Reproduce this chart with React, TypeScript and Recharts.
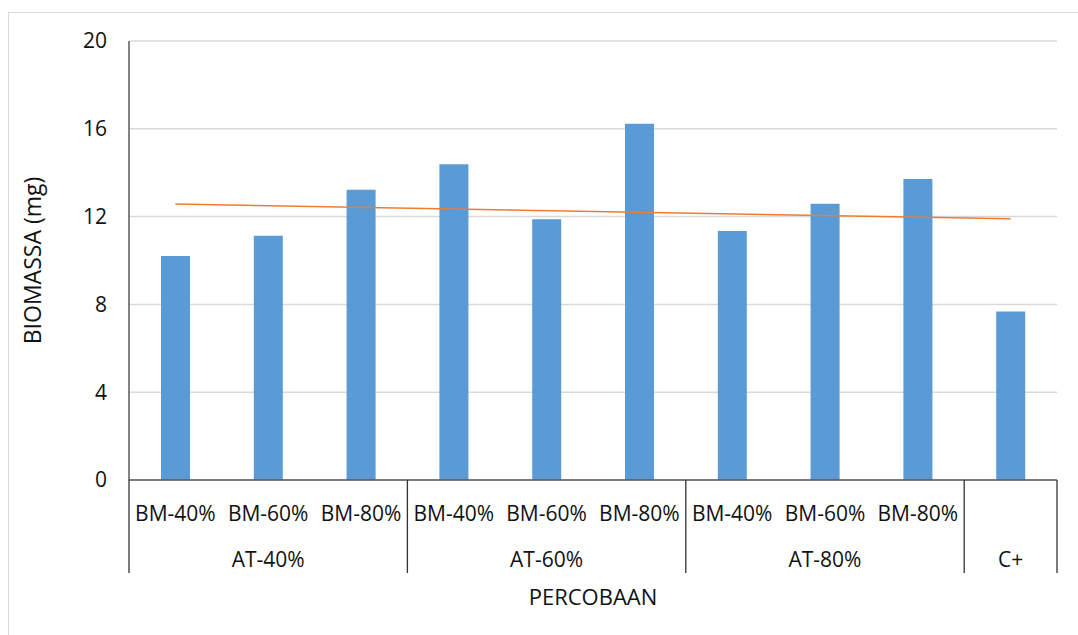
import React from 'react';
import {
  Bar,
  CartesianGrid,
  ComposedChart,
  Line,
  XAxis,
  YAxis,
} from 'recharts';

// perlakuan BM per kelompok AT, plus kontrol C+
const treatments = ['BM-40%', 'BM-60%', 'BM-80%', 'BM-40%', 'BM-60%', 'BM-80%', 'BM-40%', 'BM-60%', 'BM-80%', ''];
const groups = ['AT-40%', 'AT-60%', 'AT-80%', 'C+'];
const groupSpans = [3, 3, 3, 1];
const biomass = [10.2, 11.13, 13.22, 14.39, 11.88, 16.23, 11.34, 12.58, 13.71, 7.68];
// garis tren linear: nilai di kategori pertama dan terakhir
const trendEnds = [12.57, 11.9];
const yTicks = [0, 4, 8, 12, 16, 20];

const W = 1078;
const H = 635;
const LEFT = 129;
const RIGHT = 21;
const TOP = 41;
const AXIS_H = 155;
const BAND = (W - LEFT - RIGHT) / treatments.length;
const FONT = '"Open Sans", sans-serif';
const TEXT = '#111';
const TICK_SIZE = 21;

const groupStarts = groupSpans.map((_, i) => groupSpans.slice(0, i).reduce((a, b) => a + b, 0));

const data = treatments.map((t, i) => ({
  key: `${i}`,
  label: t,
  biomass: biomass[i],
  trend: i === 0 ? trendEnds[0] : i === treatments.length - 1 ? trendEnds[1] : null,
}));

function GroupedTick(props: any) {
  const { x, y, payload } = props;
  const i = payload?.index ?? props.index ?? 0;
  const left = x - BAND / 2;
  const g = groupStarts.indexOf(i);
  return (
    <g>
      <text x={x} y={y + 33} textAnchor="middle" dominantBaseline="central" fontSize={TICK_SIZE} fontFamily={FONT} fill={TEXT}>
        {treatments[i]}
      </text>
      {g >= 0 && (
        <>
          <line x1={left} y1={y} x2={left} y2={y + 93} stroke="#333" strokeWidth={1.3} />
          <text
            x={left + (groupSpans[g] * BAND) / 2}
            y={y + 79}
            textAnchor="middle"
            dominantBaseline="central"
            fontSize={TICK_SIZE}
            fontFamily={FONT}
            fill={TEXT}
          >
            {groups[g]}
          </text>
        </>
      )}
      {i === treatments.length - 1 && (
        <line x1={x + BAND / 2} y1={y} x2={x + BAND / 2} y2={y + 93} stroke="#333" strokeWidth={1.3} />
      )}
    </g>
  );
}

export default function App() {
  return (
    <div style={{ position: 'absolute', left: 0, top: 0, width: W, height: H, background: '#fff', overflow: 'hidden' }}>
      <div
        style={{
          position: 'absolute',
          left: 8,
          top: 12,
          width: W,
          height: H,
          borderLeft: '1.5px solid #d9d9d9',
          borderTop: '1.5px solid #d9d9d9',
        }}
      />
      <ComposedChart
        width={W}
        height={H}
        data={data}
        margin={{ top: TOP, right: RIGHT, left: 0, bottom: 0 }}
        style={{ position: 'absolute', left: 0, top: 0 }}
      >
        <CartesianGrid vertical={false} stroke="#d9d9d9" strokeWidth={1.5} />
        <XAxis
          dataKey="key"
          height={AXIS_H}
          interval={0}
          tickLine={false}
          tickSize={0}
          tickMargin={0}
          axisLine={{ stroke: '#595959', strokeWidth: 1.5 }}
          tick={<GroupedTick />}
          label={{ value: 'PERCOBAAN', position: 'insideBottom', offset: 30, fontSize: 22, fontFamily: FONT, fill: TEXT }}
        />
        <YAxis
          width={LEFT}
          domain={[0, 20]}
          ticks={yTicks}
          tickLine={false}
          tickSize={0}
          tickMargin={22}
          axisLine={{ stroke: '#595959', strokeWidth: 1.5 }}
          tick={{ fontSize: TICK_SIZE, fontFamily: FONT, fill: TEXT }}
          label={{
            value: 'BIOMASSA (mg)',
            angle: -90,
            position: 'insideLeft',
            offset: 33,
            style: { textAnchor: 'middle', fontSize: 23, fontFamily: FONT, fill: TEXT },
          }}
        />
        <Bar dataKey="biomass" fill="#5b9bd5" barSize={29} isAnimationActive={false} />
        <Line
          dataKey="trend"
          type="linear"
          stroke="#ed7d31"
          strokeWidth={1.5}
          dot={false}
          activeDot={false}
          connectNulls
          isAnimationActive={false}
        />
      </ComposedChart>
    </div>
  );
}
